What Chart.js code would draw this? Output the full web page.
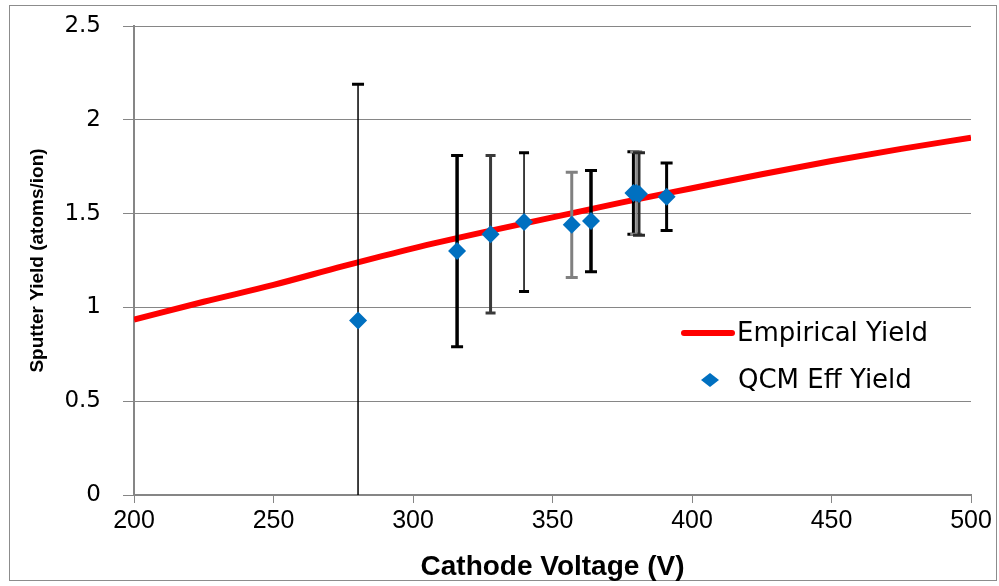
<!DOCTYPE html>
<html>
<head>
<meta charset="utf-8">
<script src="https://cdn.jsdelivr.net/npm/chart.js@4"></script>
<style>
  html, body { margin: 0; padding: 0; background: #fff; }
  #wrap { position: relative; width: 999px; height: 586px; }
</style>
</head>
<body>
<div id="wrap"><canvas id="myChart" width="999" height="586"></canvas></div>
<script>
// curva empírica
const empVoltage = [200, 225, 250, 275, 300, 325, 350, 375, 400, 425, 450, 475, 500];
const empYield = [0.935, 1.03, 1.12, 1.22, 1.315, 1.40, 1.48, 1.56, 1.635, 1.71, 1.78, 1.845, 1.905];

// medidas QCM
const qcmVoltage = [280.3, 315.8, 327.8, 339.8, 356.9, 363.8, 379, 380, 381, 390.9];
const qcmYield = [0.93, 1.30, 1.39, 1.455, 1.44, 1.46, 1.61, 1.61, 1.605, 1.59];
const qcmError = [1.26, 0.51, 0.42, 0.37, 0.28, 0.27, 0.22, 0.22, 0.22, 0.18];

const xTicks = [200, 250, 300, 350, 400, 450, 500];
const yTicks = [0, 0.5, 1, 1.5, 2, 2.5];

// estilo das barras de erro (cor, espessura, meia largura da tampa)
const barStyle = [
  ["#000", 1.5, 6], ["#000", 3.5, 6], ["#3a3a3a", 3, 5], ["#000", 1.5, 5], ["#808080", 3, 6],
  ["#000", 3.5, 6], ["#000", 3, 6], ["#8a8a8a", 2, 6], ["#2a2a2a", 3, 6], ["#000", 3, 6],
];

const ctx = document.getElementById("myChart");

const errorBars = {
  id: "errorBars",
  afterDatasetDraw(chart, args) {
    if (args.index !== 0) return; // desenha depois da linha vermelha
    const c = chart.ctx;
    const xs = chart.scales.x;
    const ys = chart.scales.y;
    const area = chart.chartArea;
    c.save();
    c.beginPath();
    c.rect(area.left, area.top, area.right - area.left, area.bottom - area.top);
    c.clip();
    qcmVoltage.forEach((v, i) => {
      const [color, w, cap] = barStyle[i];
      const x = xs.getPixelForValue(v);
      const yTop = ys.getPixelForValue(qcmYield[i] + qcmError[i]);
      const yBot = ys.getPixelForValue(qcmYield[i] - qcmError[i]);
      c.strokeStyle = color;
      c.lineWidth = w;
      c.beginPath();
      c.moveTo(x, yTop);
      c.lineTo(x, yBot);
      c.stroke();
      c.lineWidth = 3;
      c.beginPath();
      c.moveTo(x - cap, yTop);
      c.lineTo(x + cap, yTop);
      c.moveTo(x - cap, yBot);
      c.lineTo(x + cap, yBot);
      c.stroke();
    });
    c.restore();
  },
};

const frameAndLegend = {
  id: "frameAndLegend",
  beforeDraw(chart) {
    const c = chart.ctx;
    c.save();
    c.fillStyle = "#fff";
    c.fillRect(0, 0, chart.width, chart.height);
    c.strokeStyle = "#8c8c8c";
    c.lineWidth = 1;
    c.strokeRect(9.5, 5.5, 987, 575);
    c.restore();
  },
  afterDraw(chart) {
    const c = chart.ctx;
    const ds = chart.data.datasets;
    c.save();
    c.font = "26px 'DejaVu Sans'";
    c.fillStyle = "#000";
    c.textBaseline = "middle";
    // Empirical Yield
    c.strokeStyle = ds[0].borderColor;
    c.lineWidth = 6;
    c.lineCap = "round";
    c.beginPath();
    c.moveTo(684, 333);
    c.lineTo(732, 333);
    c.stroke();
    c.fillText(ds[0].label, 737, 334);
    // QCM Eff Yield
    c.fillStyle = ds[1].backgroundColor;
    c.beginPath();
    c.moveTo(710, 373);
    c.lineTo(719, 380);
    c.lineTo(710, 387);
    c.lineTo(701, 380);
    c.closePath();
    c.fill();
    c.fillStyle = "#000";
    c.fillText(ds[1].label, 738, 381);
    c.restore();
  },
};

new Chart(ctx, {
  type: "scatter",
  data: {
    datasets: [
      {
        label: "Empirical Yield",
        type: "line",
        data: empVoltage.map((v, i) => ({ x: v, y: empYield[i] })),
        borderColor: "#ff0000",
        backgroundColor: "#ff0000",
        borderWidth: 6,
        pointRadius: 0,
        cubicInterpolationMode: "monotone",
        order: 2,
      },
      {
        label: "QCM Eff Yield",
        data: qcmVoltage.map((v, i) => ({ x: v, y: qcmYield[i] })),
        backgroundColor: "#0070c0",
        borderColor: "#0070c0",
        pointStyle: "rectRot",
        pointRadius: 9,
        pointBorderWidth: 0,
        order: 1,
      },
    ],
  },
  options: {
    responsive: false,
    animation: false,
    devicePixelRatio: 1,
    layout: { padding: { top: 26, right: 28, left: 0, bottom: 0 } },
    plugins: { legend: { display: false }, tooltip: { enabled: false } },
    scales: {
      x: {
        type: "linear",
        min: 200,
        max: 500,
        afterFit: (s) => { s.height = 91; },
        afterBuildTicks: (s) => { s.ticks = xTicks.map((v) => ({ value: v })); },
        grid: { drawOnChartArea: false, drawTicks: true, tickLength: 8, color: "#868686" },
        border: { color: "#868686", width: 2 },
        ticks: { color: "#000", padding: 3, font: { family: "'Liberation Sans'", size: 25 } },
        title: {
          display: true,
          text: "Cathode Voltage (V)",
          color: "#000",
          padding: { top: 0, bottom: 2 },
          font: { family: "'Liberation Sans'", size: 28, weight: "bold" },
        },
      },
      y: {
        min: 0,
        max: 2.5,
        afterFit: (s) => {
          s.width = 134;
          s.paddingTop = 10;
          s.paddingBottom = 10;
        },
        afterBuildTicks: (s) => { s.ticks = yTicks.map((v) => ({ value: v })); },
        grid: { color: "#868686", lineWidth: 1, tickLength: 11 },
        border: { color: "#868686", width: 2 },
        ticks: {
          color: "#000",
          padding: 22,
          font: { family: "'DejaVu Sans'", size: 23 },
          callback: (v) => String(v),
        },
        title: {
          display: true,
          text: "Sputter Yield (atoms/ion)",
          color: "#000",
          padding: { top: 26, bottom: 0 },
          font: { family: "'Liberation Sans'", size: 19, weight: "bold" },
        },
      },
    },
  },
  plugins: [frameAndLegend, errorBars],
});
</script>
</body>
</html>
